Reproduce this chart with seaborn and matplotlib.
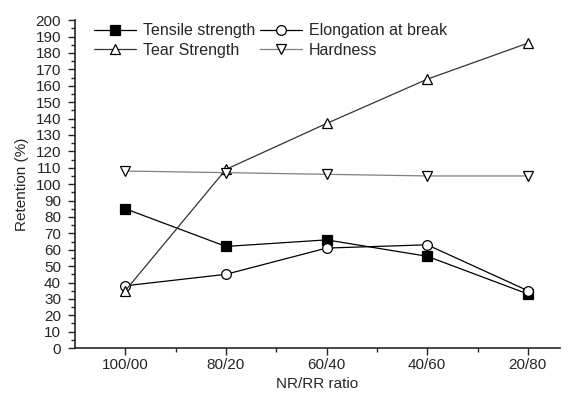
import numpy as np
import pandas as pd
import matplotlib
matplotlib.use("Agg")
import matplotlib.pyplot as plt
import seaborn as sns
from matplotlib.ticker import MultipleLocator

# data
ratios = ["100/00", "80/20", "60/40", "40/60", "20/80"]
tensile = [85, 62, 66, 56, 33]
elongation = [38, 45, 61, 63, 35]
tear = [35, 109, 137, 164, 186]
hardness = [108, 107, 106, 105, 105]

sns.set_style("ticks")
plt.rcParams['font.family'] = ['Liberation Sans', 'DejaVu Sans']

fig = plt.figure(figsize=(5.68, 3.96), dpi=100)
ax = fig.add_axes([0.132, 0.121, 0.854, 0.828])

series = [
    ("Tensile strength", tensile, "s", "black", "black"),
    ("Elongation at break", elongation, "o", "white", "black"),
    ("Tear Strength", tear, "^", "white", "#333333"),
    ("Hardness", hardness, "v", "white", "#808080"),
]

for name, vals, mk, face, col in series:
    df = pd.DataFrame({"ratio": ratios, "val": vals})
    sns.lineplot(data=df, x="ratio", y="val", ax=ax, color=col, lw=0.9,
                 marker=mk, markersize=7, markerfacecolor=face,
                 markeredgecolor="black", markeredgewidth=0.9, label=name)

ax.set_xlim(-0.5, 4.32)
ax.set_ylim(0, 200)
ax.yaxis.set_major_locator(MultipleLocator(10))
ax.yaxis.set_minor_locator(MultipleLocator(5))
ax.set_xticks(range(len(ratios)))
ax.set_xticklabels(ratios)
ax.set_xticks(np.arange(0.5, 4.0, 1.0), minor=True)
ax.tick_params(axis="both", which="major", length=5, width=1, labelsize=11,
               direction="out", pad=2)
ax.tick_params(axis="y", which="major", pad=5)
ax.tick_params(axis="both", which="minor", length=3, width=1, direction="out")
for s in ["top", "right"]:
    ax.spines[s].set_visible(False)
ax.spines["left"].set_linewidth(1.2)
ax.spines["bottom"].set_linewidth(1.2)

ax.set_xlabel("NR/RR ratio", fontsize=11, labelpad=4)
ax.set_ylabel("Retention (%)", fontsize=11, labelpad=5)

# legend filled row by row like the original
h, l = ax.get_legend_handles_labels()
order = [0, 2, 1, 3]
ax.legend([h[i] for i in order], [l[i] for i in order], ncol=2, loc="upper left",
          bbox_to_anchor=(0.04, 0.99), frameon=False, fontsize=11.5,
          handlelength=2.6, handletextpad=0.45, columnspacing=0.3,
          labelspacing=0.28, borderaxespad=0, borderpad=0)

fig.savefig("out.png", dpi=100)
